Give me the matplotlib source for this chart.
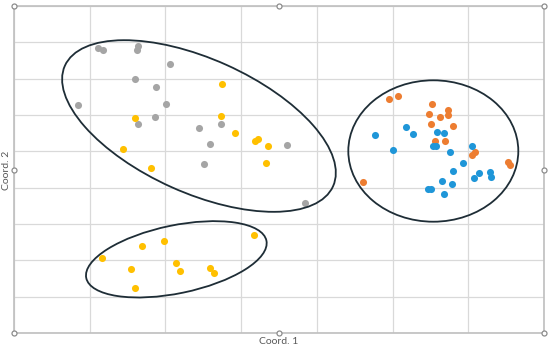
import matplotlib
matplotlib.use("Agg")
import matplotlib.pyplot as plt
from matplotlib.patches import Ellipse
from matplotlib.transforms import ScaledTranslation

# cluster points (Coord. 1, Coord. 2)
gray_x = [1.105, 1.179, 1.638, 1.628, 2.064, 1.602, 1.875, 0.849, 2.004, 1.862,
          1.634, 2.443, 2.734, 2.586, 2.512, 3.606, 3.843]
gray_y = [7.852, 7.789, 7.907, 7.789, 7.404, 6.991, 6.779, 6.284, 6.303, 5.937,
          5.744, 5.650, 5.744, 5.207, 4.665, 5.183, 3.586]

yellow_x = [2.747, 2.734, 1.602, 2.923, 3.179, 3.219, 3.359, 3.332, 1.444, 1.809,
            3.174, 1.687, 1.985, 1.166, 1.549, 2.136, 2.192, 2.589, 2.641, 1.594]
yellow_y = [6.862, 5.972, 5.909, 5.505, 5.276, 5.348, 5.138, 4.679, 5.056, 4.550,
            2.697, 2.395, 2.524, 2.056, 1.753, 1.918, 1.698, 1.781, 1.660, 1.239]

orange_x = [4.949, 5.068, 5.525, 5.485, 5.630, 5.732, 5.736, 5.508, 5.798, 5.560,
            5.688, 6.053, 6.089, 6.521, 6.555, 4.613]
orange_y = [6.449, 6.523, 6.303, 6.036, 5.945, 6.138, 6.008, 5.752, 5.697, 5.276,
            5.284, 4.907, 4.990, 4.698, 4.616, 4.148]

blue_x = [4.772, 5.177, 5.266, 5.006, 5.587, 5.683, 5.538, 5.574, 5.755, 6.049,
          5.926, 5.794, 6.138, 6.291, 6.300, 6.075, 5.653, 5.781, 5.464, 5.504, 5.675]
blue_y = [5.441, 5.661, 5.469, 5.028, 5.524, 5.496, 5.155, 5.155, 4.990, 5.155,
          4.679, 4.459, 4.412, 4.440, 4.285, 4.266, 4.175, 4.093, 3.963, 3.955, 3.817]

# group outlines: centre in data units, semi-axes in screen pixels, angle in degrees
ellipse_centers = [(2.443, 5.697), (2.144, 2.028), (5.538, 5.009)]
ellipse_axes = [(147, 67), (92, 34), (85, 70.7)]
ellipse_angles = [-24.2, 11.7, 0.0]

DPI = 100
fig = plt.figure(figsize=(5.5, 3.49), dpi=DPI)
ax = fig.add_axes([14 / 550, 16 / 349, 530 / 550, 327 / 349])

ax.set_xlim(0, 7)
ax.set_ylim(0, 9)
ax.set_xticks(range(0, 8))
ax.set_yticks(range(0, 10))
ax.tick_params(length=0, labelbottom=False, labelleft=False)
ax.grid(True, color="#d9d9d9", linewidth=0.9)
ax.set_axisbelow(True)
for s in ax.spines.values():
    s.set_color("#bfbfbf")
    s.set_linewidth(1.2)

ms = 26
ax.scatter(gray_x, gray_y, s=ms, color="#a5a5a5", linewidths=0, zorder=3)
ax.scatter(yellow_x, yellow_y, s=ms, color="#ffc000", linewidths=0, zorder=3)
ax.scatter(orange_x, orange_y, s=ms, color="#ed7d31", linewidths=0, zorder=3)
ax.scatter(blue_x, blue_y, s=ms, color="#1f96d8", linewidths=0, zorder=3)

for (cx, cy), (a, b), ang in zip(ellipse_centers, ellipse_axes, ellipse_angles):
    tr = fig.dpi_scale_trans + ScaledTranslation(cx, cy, ax.transData)
    e = Ellipse((0, 0), 2 * a / DPI, 2 * b / DPI, angle=ang, transform=tr,
                fill=False, edgecolor="#1e2d36", linewidth=1.3, zorder=4)
    ax.add_patch(e)

# selection handles on the frame
hx = [0, 0.5, 1, 0, 1, 0, 0.5, 1]
hy = [0, 0, 0, 0.5, 0.5, 1, 1, 1]
ax.plot(hx, hy, "o", transform=ax.transAxes, clip_on=False, markersize=3.6,
        markerfacecolor="white", markeredgecolor="#8c8c8c", markeredgewidth=0.9,
        zorder=5)

fig.text(279 / 550, 1 - 341.5 / 349, "Coord. 1", ha="center", va="center",
         fontsize=7.5, color="#595959", family="Lato")
fig.text(6.5 / 550, 1 - 170 / 349, "Coord. 2", ha="center", va="center",
         rotation=90, fontsize=7.5, color="#595959", family="Lato")

fig.savefig("out.png", dpi=DPI)
